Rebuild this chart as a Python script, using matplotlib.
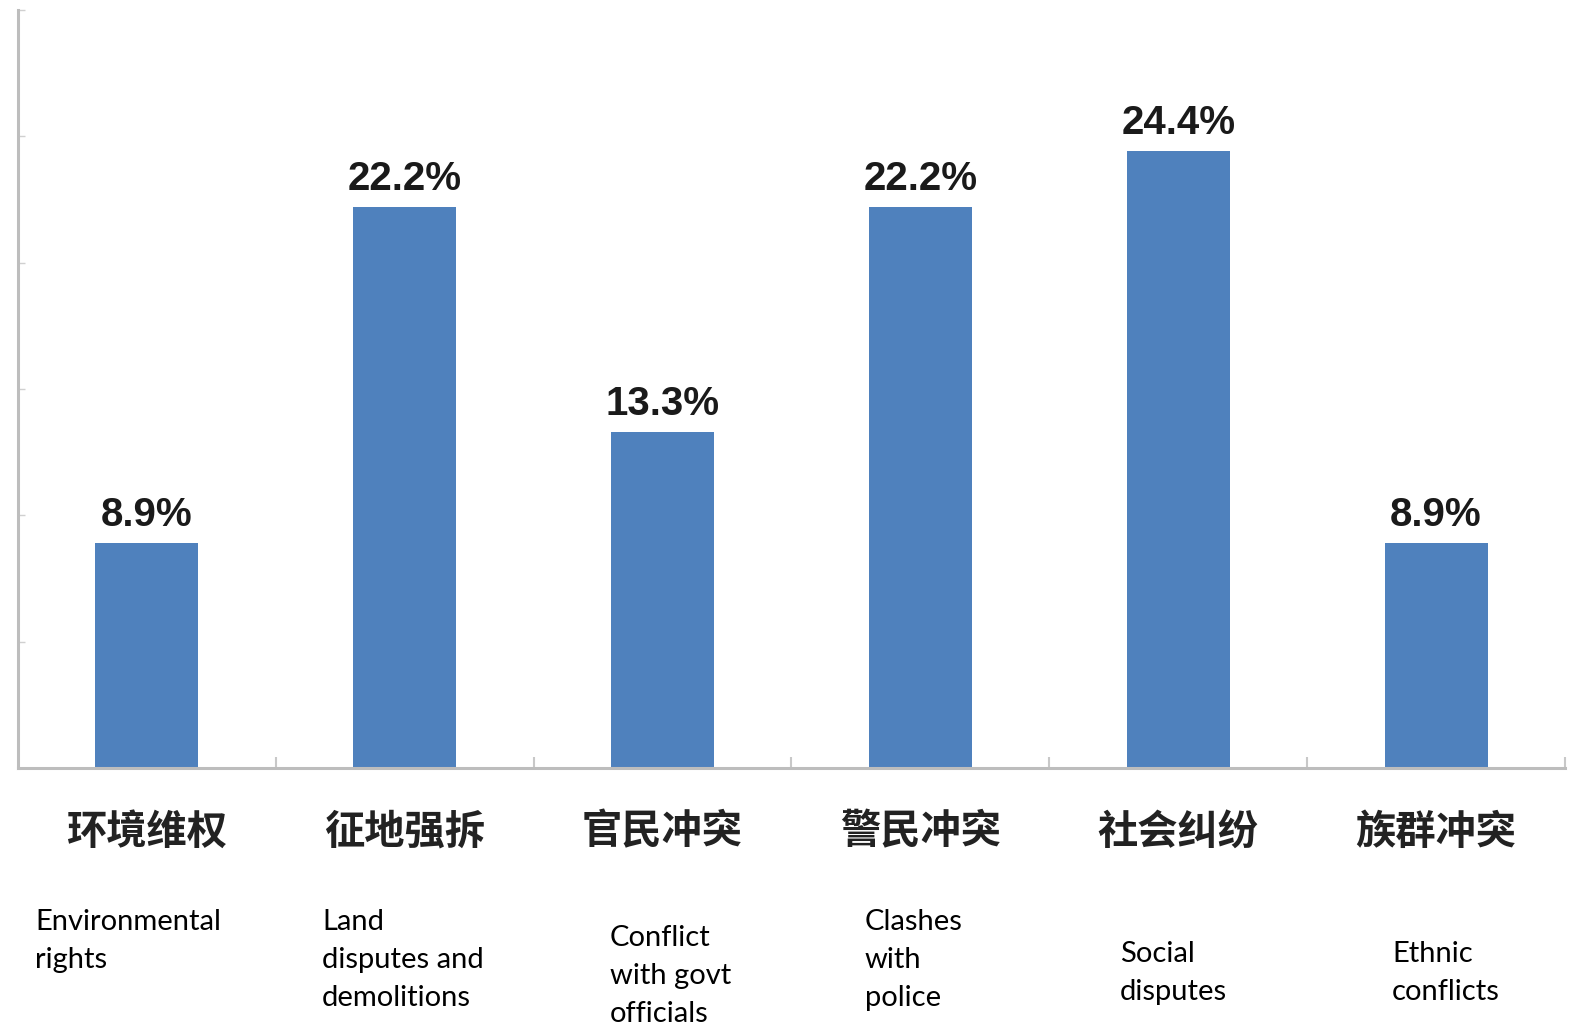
import matplotlib
matplotlib.use("Agg")
import matplotlib.pyplot as plt
from matplotlib.ticker import FixedLocator

categories_zh = ["环境维权", "征地强拆", "官民冲突", "警民冲突", "社会纠纷", "族群冲突"]
categories_en = ["Environmental\nrights", "Land\ndisputes and\ndemolitions",
                 "Conflict\nwith govt\nofficials", "Clashes\nwith\npolice",
                 "Social\ndisputes", "Ethnic\nconflicts"]
values = [8.9, 22.2, 13.3, 22.2, 24.4, 8.9]
value_labels = ["8.9%", "22.2%", "13.3%", "22.2%", "24.4%", "8.9%"]
y_ticks = [0, 5, 10, 15, 20, 25, 30]

W, H = 1571, 1026
fig = plt.figure(figsize=(W / 100, H / 100), dpi=100)
ax = fig.add_axes([18 / W, 1 - 768 / H, (1565 - 18) / W, (768 - 10) / H])

x = list(range(len(values)))
ax.bar(x, values, width=0.4, color="#4F81BD", zorder=2)
ax.set_xlim(-0.5, len(values) - 0.5)
ax.set_ylim(0, 30)

for xi, v, lab in zip(x, values, value_labels):
    ax.annotate(lab, (xi, v), xytext=(0, 9), textcoords="offset pixels",
                ha="center", va="bottom", fontsize=29, fontweight="bold",
                family=["Liberation Sans", "DejaVu Sans"], color="#1a1a1a")

for s in ["top", "right"]:
    ax.spines[s].set_visible(False)
for s in ["left", "bottom"]:
    ax.spines[s].set_color("#BDBDBD")
    ax.spines[s].set_linewidth(2.2)

ax.yaxis.set_major_locator(FixedLocator(y_ticks))
ax.set_yticklabels([])
ax.tick_params(axis="y", direction="in", length=5, color="#D0D0D0", width=1)
ax.xaxis.set_major_locator(FixedLocator([i + 0.5 for i in x]))
ax.set_xticklabels([])
ax.tick_params(axis="x", direction="in", length=8, color="#C8C8C8", width=1.5)

# Chinese category labels
for xi, lab in zip(x, categories_zh):
    ax.annotate(lab, (xi, 0), xytext=(0, -64), textcoords="offset pixels",
                ha="center", va="center", fontsize=29, fontweight="bold",
                family=["Noto Sans CJK SC", "DejaVu Sans"], color="#222222",
                annotation_clip=False)

# English translations
en_pos = [(35, 909), (322, 909), (610, 925), (865, 909), (1120, 941), (1392, 941)]
for (px, py), lab in zip(en_pos, categories_en):
    fig.text(px / W, 1 - py / H, lab, ha="left", va="top", fontsize=21,
             family=["Lato", "DejaVu Sans"], color="black", linespacing=1.57)

fig.savefig("out.png", dpi=100, facecolor="white")
